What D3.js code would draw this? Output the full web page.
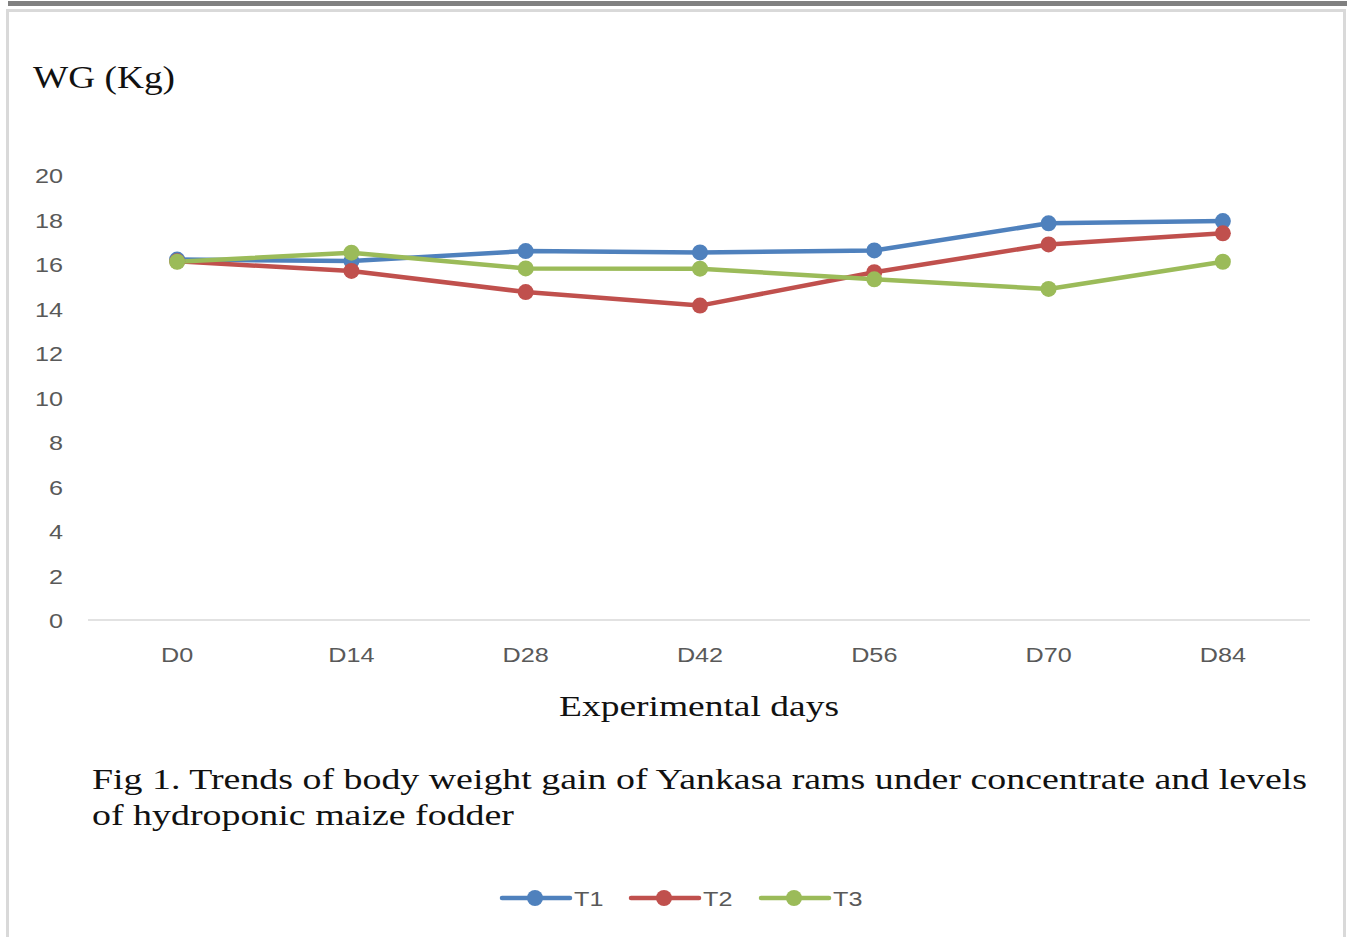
<!DOCTYPE html>
<html>
<head>
<meta charset="utf-8">
<script src="https://cdn.jsdelivr.net/npm/d3@7"></script>
<style>
  body { margin: 0; background: #fff; }
  svg { display: block; }
</style>
</head>
<body>
<svg id="chart" width="1347" height="937"></svg>
<script>
const days = ["D0", "D14", "D28", "D42", "D56", "D70", "D84"];
const t1 = [16.2, 16.13, 16.58, 16.52, 16.61, 17.83, 17.93];
const t2 = [16.12, 15.69, 14.74, 14.13, 15.63, 16.88, 17.38];
const t3 = [16.1, 16.51, 15.8, 15.79, 15.31, 14.88, 16.1];
const yTicks = [0, 2, 4, 6, 8, 10, 12, 14, 16, 18, 20];

const series = [
  {name: "T1", values: t1, color: "#4f81bd"},
  {name: "T2", values: t2, color: "#c0504d"},
  {name: "T3", values: t3, color: "#9bbb59"}
];

const svg = d3.select("#chart");
const TEXT_GRAY = "#595959";

// frame
svg.append("rect").attr("x", 8).attr("y", 1).attr("width", 1339).attr("height", 5).attr("fill", "#808080");
svg.append("rect").attr("x", 7.5).attr("y", 10.5).attr("width", 1337).attr("height", 940)
   .attr("fill", "none").attr("stroke", "#d9d9d9").attr("stroke-width", 3);

var x = d3.scalePoint().domain(days).range([90, 1310]).padding(0.5);
var y = d3.scaleLinear().domain([0, 20]).range([620, 175]);

// baseline
svg.append("line").attr("x1", 88).attr("x2", 1310).attr("y1", y(0)).attr("y2", y(0))
   .attr("stroke", "#d9d9d9").attr("stroke-width", 1.5);

// y tick labels
svg.append("g").selectAll("text")
   .data(yTicks).enter().append("text")
   .attr("transform", d => "translate(63," + (y(d) + 8) + ") scale(1.2,1)")
   .attr("text-anchor", "end")
   .attr("font-family", "Liberation Sans, Arial, sans-serif")
   .attr("font-size", 21)
   .attr("fill", TEXT_GRAY)
   .text(d => d);

// x tick labels
svg.append("g").selectAll("text")
   .data(days).enter().append("text")
   .attr("transform", d => "translate(" + x(d) + ",662) scale(1.2,1)")
   .attr("text-anchor", "middle")
   .attr("font-family", "Liberation Sans, Arial, sans-serif")
   .attr("font-size", 21)
   .attr("fill", TEXT_GRAY)
   .text(d => d);

// lines
const linegen = d3.line().x((d, i) => x(days[i])).y(d => y(d));
var plot = svg.append("g");
series.forEach(s => {
  plot.append("path").datum(s.values)
      .attr("fill", "none").attr("stroke", s.color)
      .attr("stroke-width", 4.5).attr("stroke-linejoin", "round")
      .attr("d", linegen);
});
series.forEach(s => {
  plot.append("g").selectAll("circle")
      .data(s.values).enter().append("circle")
      .attr("cx", (d, i) => x(days[i])).attr("cy", d => y(d))
      .attr("r", 8).attr("fill", s.color);
});

// titles
const serif = "Liberation Serif, Times New Roman, serif";
svg.append("text").attr("x", 33).attr("y", 88)
   .attr("font-family", serif).attr("font-size", 31).attr("fill", "#111")
   .attr("textLength", 142).attr("lengthAdjust", "spacingAndGlyphs")
   .text("WG (Kg)");

svg.append("text").attr("x", 559).attr("y", 716)
   .attr("font-family", serif).attr("font-size", 29).attr("fill", "#111")
   .attr("textLength", 280).attr("lengthAdjust", "spacingAndGlyphs")
   .text("Experimental  days");

svg.append("text").attr("x", 92).attr("y", 789)
   .attr("font-family", serif).attr("font-size", 30).attr("fill", "#111")
   .attr("textLength", 1215).attr("lengthAdjust", "spacingAndGlyphs")
   .text("Fig 1. Trends of body weight gain of Yankasa rams under concentrate and levels");
svg.append("text").attr("x", 92).attr("y", 825)
   .attr("font-family", serif).attr("font-size", 30).attr("fill", "#111")
   .attr("textLength", 422).attr("lengthAdjust", "spacingAndGlyphs")
   .text("of hydroponic maize fodder");

// legend
const legendX = [502, 631, 761];
var legend = svg.append("g");
series.forEach((s, i) => {
  var g = legend.append("g").attr("transform", "translate(" + legendX[i] + ",898)");
  g.append("line").attr("x1", 0).attr("x2", 68).attr("stroke", s.color)
   .attr("stroke-width", 4.5).attr("stroke-linecap", "round");
  g.append("circle").attr("cx", 33).attr("r", 8).attr("fill", s.color);
  g.append("text").attr("transform", "translate(72,8) scale(1.2,1)")
   .attr("font-family", "Liberation Sans, Arial, sans-serif")
   .attr("font-size", 21).attr("fill", TEXT_GRAY)
   .text(s.name);
});
</script>
</body>
</html>
